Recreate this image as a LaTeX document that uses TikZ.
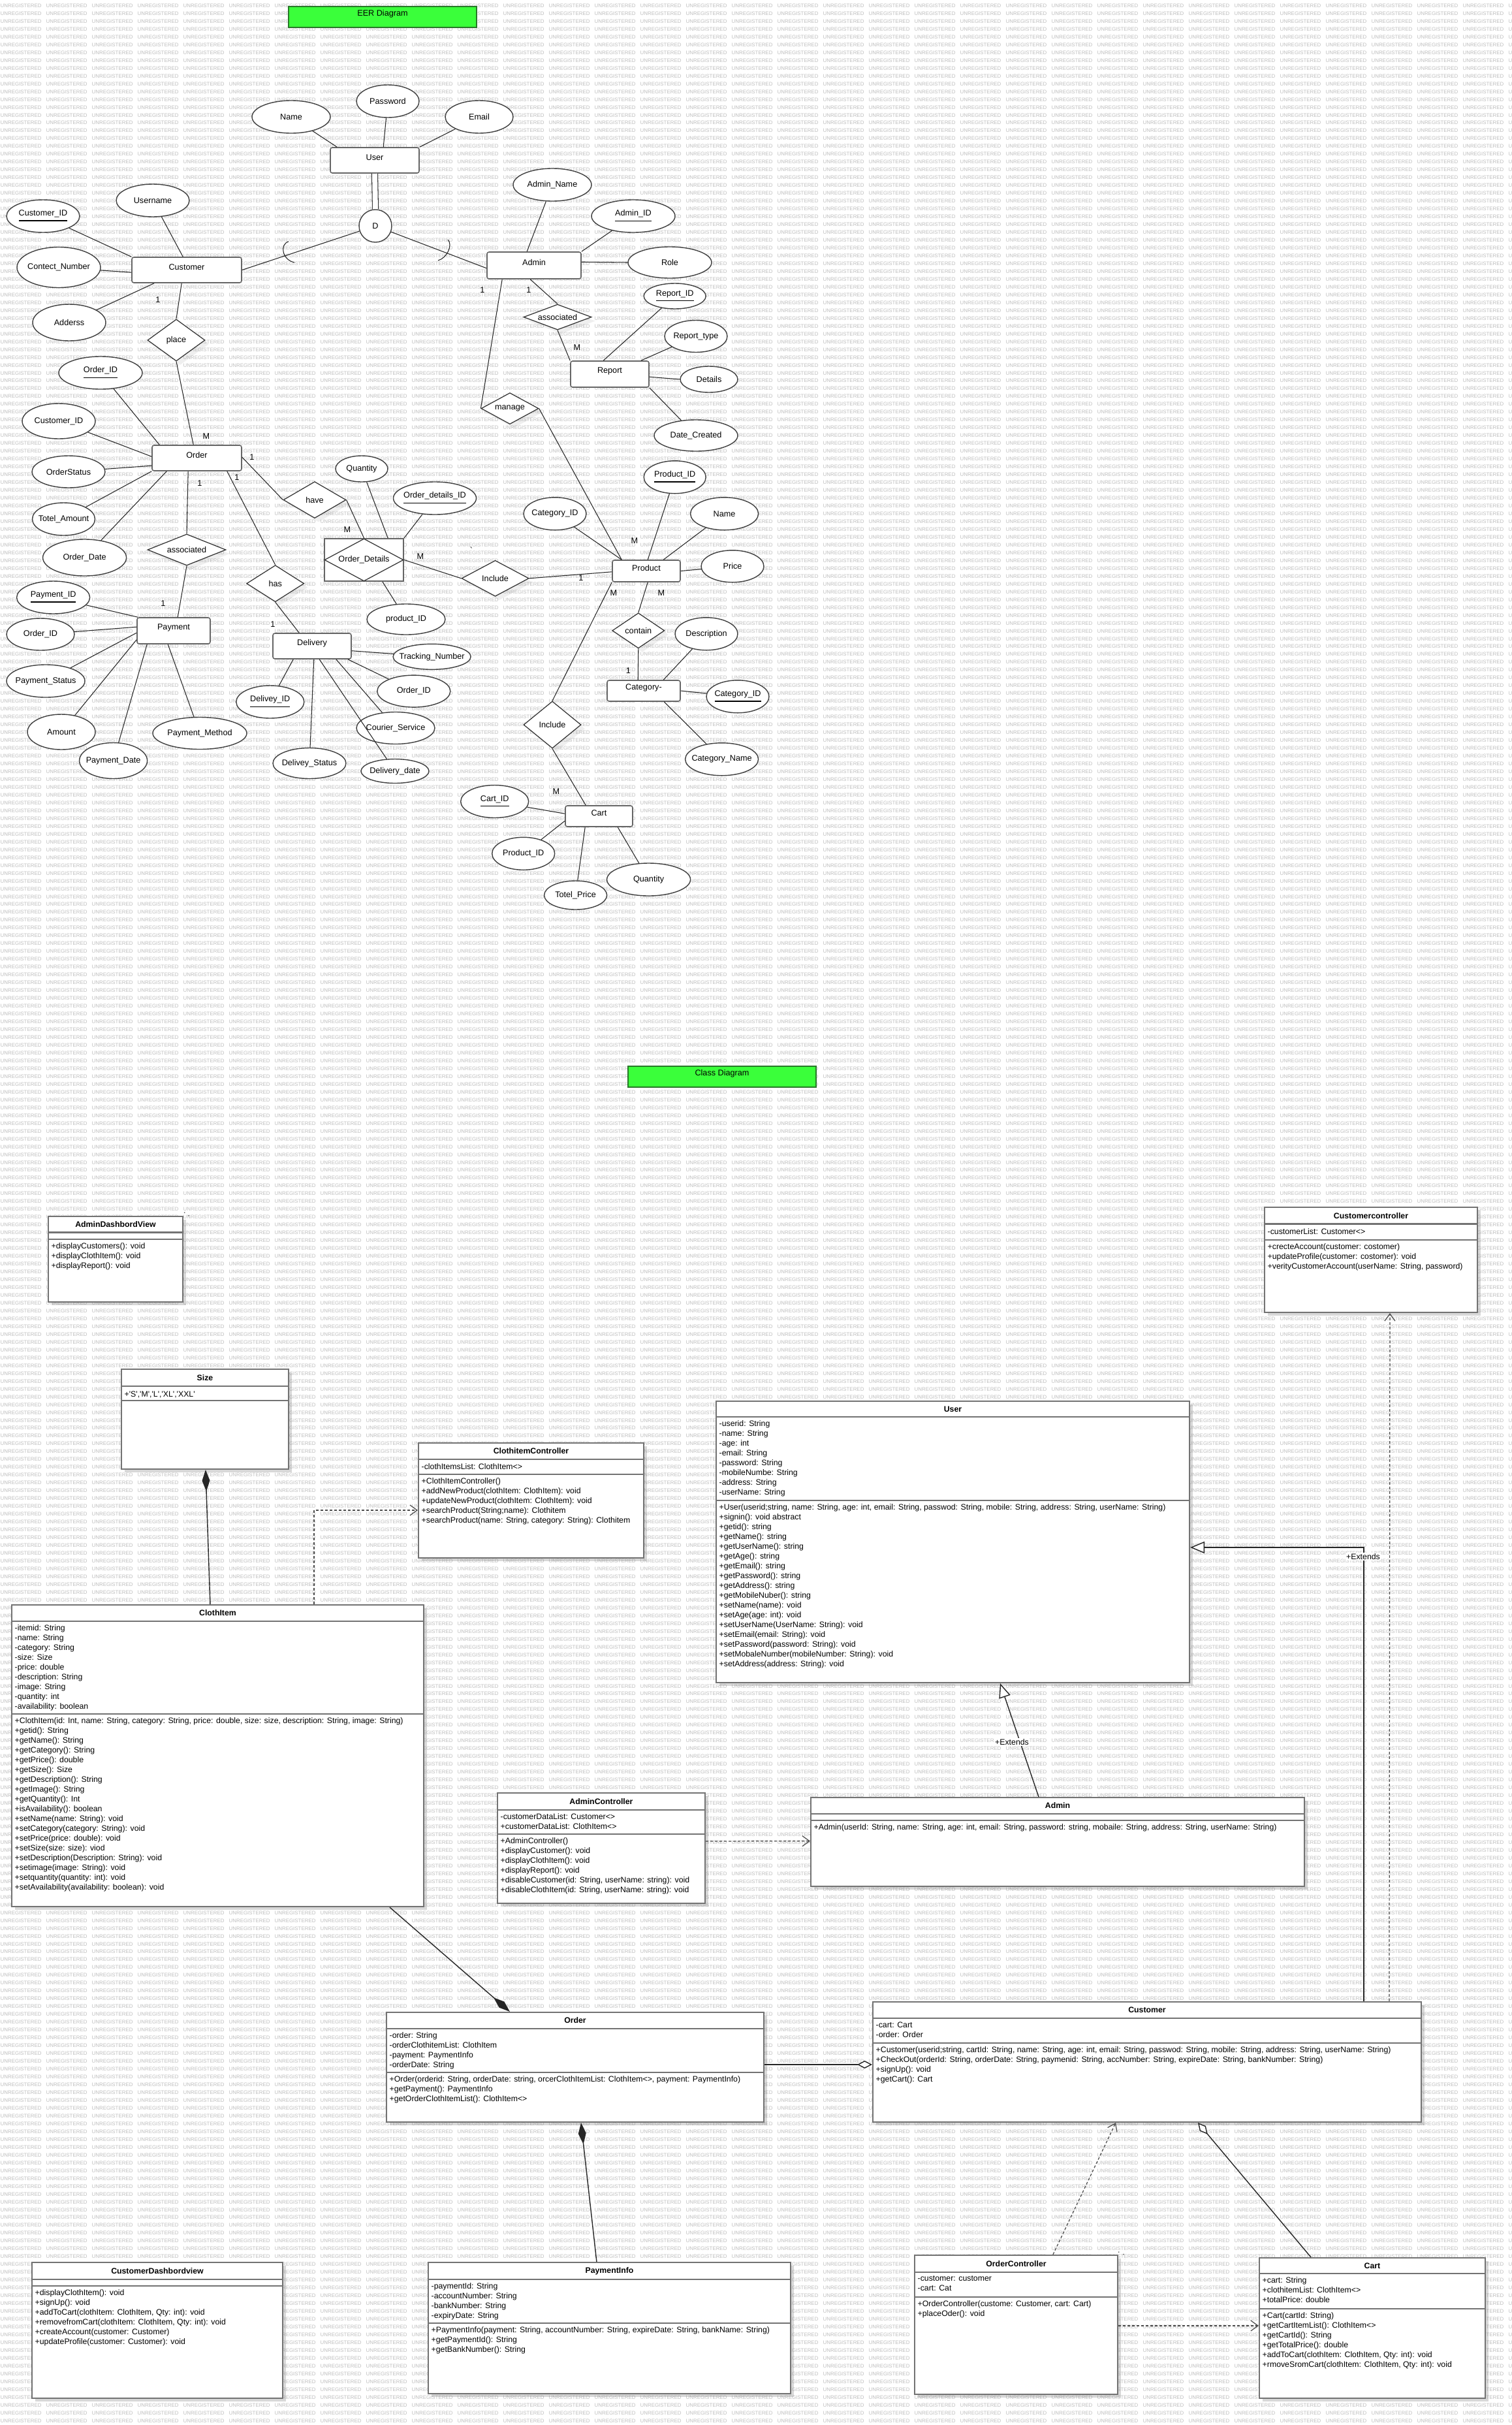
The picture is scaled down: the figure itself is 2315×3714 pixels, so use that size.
\documentclass[tikz,border=0pt]{standalone}
\usepackage{fontspec}
\setmainfont{Liberation Sans}
\usetikzlibrary{shapes.geometric,arrows.meta,calc,fit,shadows}
\definecolor{hdrgreen}{RGB}{58,255,58}
\definecolor{hdrborder}{RGB}{40,120,40}
\newcommand\eerf{\fontsize{3.6pt}{4.3pt}\selectfont}
\newcommand\clsf{\fontsize{3.5pt}{4.27pt}\selectfont}
\newcommand\wmf{\fontsize{2.25pt}{2.5pt}\selectfont}
\newcommand\wmcell{\makebox[7mm][l]{UNREGISTERED}}
\newcommand\wmeight{\wmcell\wmcell\wmcell\wmcell\wmcell\wmcell\wmcell\wmcell}
\newcommand\wmrow{\wmeight\wmeight\wmeight\wmeight\wmcell\wmcell}
\newcommand\q{\textquotesingle}
\tikzset{
 wm/.style={font=\wmf, text=black!25, inner sep=0pt, anchor=west},
 eattr/.style={ellipse, draw=black!75, line width=0.4pt, fill=white, inner sep=0pt, font=\eerf},
 eent/.style={rectangle, draw=black!60, line width=0.45pt, rounded corners=0.3mm, fill=white, inner sep=0pt, font=\eerf},
 erel/.style={diamond, draw=black!80, line width=0.35pt, fill=white, inner sep=0pt, font=\eerf, drop shadow={opacity=0.12, shadow xshift=0.6mm, shadow yshift=-0.6mm}},
 elink/.style={draw=black!85, line width=0.3pt},
 card/.style={font=\eerf, inner sep=0pt},
 hdr/.style={rectangle, draw=hdrborder, line width=0.5pt, fill=hdrgreen, inner sep=0pt, font=\eerf},
 cbox/.style={rectangle, draw=black!55, line width=0.6pt, fill=white, inner sep=0pt, drop shadow={opacity=0.3, shadow xshift=0.45mm, shadow yshift=-0.45mm}},
 csep/.style={draw=black!55, line width=0.6pt},
 ctitle/.style={font=\clsf\bfseries, inner sep=0pt},
 ctext/.style={font=\clsf, align=left, anchor=north west, inner sep=0pt, execute at begin node=\strut},
 clbl/.style={font=\clsf, inner sep=0.3pt, fill=white},
 cline/.style={draw=black!85, line width=0.4pt},
 comp/.style={cline, -{Diamond[length=3.3mm, width=1.2mm]}},
 agg/.style={cline, -{Diamond[open, length=2.3mm, width=1.2mm, fill=white]}},
 gen/.style={cline, -{Triangle[open, length=2.2mm, width=1.8mm, fill=white]}},
 dep/.style={draw=black!70, line width=0.35pt, dash pattern=on 0.4mm off 0.3mm, -{Straight Barb[length=1.1mm, width=1.6mm]}},
}
\newcommand\EA[6]{\node[eattr, minimum width=#4*0.2mm, minimum height=#5*0.2mm] (#1) at (#2,#3) {\makebox[0pt]{#6}};}
\newcommand\EE[6]{\node[eent, fit={(#2,#3) (#4,#5)}] (#1) {#6};}
\newcommand\ER[6]{\node[erel, minimum width=#4*0.1mm, minimum height=#5*0.1mm] (#1) at (#2,#3) {\makebox[0pt]{#6}};}
\newcommand\CL[4]{\node[card] (#1) at (#2,#3) {#4};}
\newcommand\UC[7]{\node[cbox, fit={(#2,#3) (#4,#5)}] (#1) {};
 \node[ctitle] (#1-t) at ({(#2+#4)/2},{(#3+#6)/2}) {#7};
 \draw[csep] (#2,#6) -- (#4,#6);}
\newcommand\CT[4]{\node[ctext] (#1) at (#2,#3) {#4};}
\begin{document}
\begin{tikzpicture}[x=0.1mm, y=-0.1mm]
\useasboundingbox (0,0) rectangle (2315,3714);
\fill[white] (0,0) rectangle (2315,3714);
% watermark
\begin{scope}
\clip (0,0) rectangle (2315,3714);
\foreach \k in {0,...,310} {\node[wm] (wm\k) at (0,{8.7+11.97*\k}) {\wmrow};}
\end{scope}
% headers
\node[hdr, fit={(442,10) (730,42)}] (eerh) {EER Diagram};
\node[hdr, fit={(962,1633) (1250,1665)}] (clsh) {Class Diagram};
% ===== EER =====
\EE{u}{506}{226}{642}{265}{User}
\EA{uname}{446}{179}{60}{25}{Name}
\EA{upass}{594}{155}{48}{25}{Password}
\EA{uemail}{734}{179}{52}{25}{Email}
\node[eattr, circle, minimum size=5mm] (D) at (575,346) {D};
\EE{cust}{202}{394}{370}{433}{Customer}
\EA{cid}{66}{331}{56}{25}{\underline{Customer\_ID}}
\EA{cuser}{234}{307}{56}{25}{Username}
\EA{ccontact}{90}{409.5}{64}{31}{Contect\_Number}
\EA{caddr}{106}{494}{56}{28}{Adderss}
\ER{place}{270}{521}{88}{64}{place}
\EE{ord}{233}{682}{370}{721}{Order}
\EA{oid}{154}{571}{64}{25}{\underline{Order\_ID}}
\EA{ocid}{90}{645}{56}{27}{Customer\_ID}
\EA{ostat}{105}{722.5}{56}{24.5}{OrderStatus}
\EA{otot}{97.5}{795}{48}{25}{Totel\_Amount}
\EA{odate}{129.6}{854}{64}{28}{Order\_Date}
\ER{assoc1}{286}{842}{120}{48}{associated}
\EE{pay}{210}{946}{322}{986}{Payment}
\EA{pid}{81.6}{915}{56}{25}{\underline{Payment\_ID}}
\EA{poid}{62}{971.5}{52}{24.5}{Order\_ID}
\EA{pstat}{70}{1043}{60}{25}{Payment\_Status}
\EA{pamt}{94}{1121}{52}{27}{Amount}
\EA{pdate}{173.6}{1165}{52}{27.5}{Payment\_Date}
\EA{pmeth}{306}{1123}{72}{24.5}{Payment\_Method}
\ER{has}{421.7}{893.7}{88}{56}{has}
\EE{del}{418}{970}{538}{1009}{Delivery}
\EA{did}{413.8}{1075}{52}{25}{\underline{Delivey\_ID}}
\EA{dstat}{474}{1169}{56}{23.5}{Delivey\_Status}
\EA{dtrack}{661.6}{1005.8}{59.5}{19.5}{Tracking\_Number}
\EA{doid}{633.8}{1058.6}{56}{24.5}{Order\_ID}
\EA{dcour}{606}{1115}{60}{24.5}{Courier\_Service}
\EA{ddate}{605}{1181}{52}{18.5}{Delivery\_date}
\ER{have}{482}{765.6}{96}{56}{have}
\node[eent, rounded corners=0pt, line width=0.6pt, fit={(497,825) (618,890)}] (od) {};
\node[diamond, draw=black!80, line width=0.35pt, inner sep=0pt, minimum width=12.1mm, minimum height=6.5mm, font=\eerf] (odd) at (od.center) {\makebox[0pt]{Order\_Details}};
\EA{odq}{554}{718}{40}{20}{Quantity}
\EA{odid}{666}{763}{63.5}{25}{\underline{Order\_details\_ID}}
\EA{odpid}{622}{948.5}{60}{23.5}{product\_ID}
\ER{incl1}{758.6}{885.8}{103}{55}{Include}
\EE{adm}{746}{386}{890}{427}{Admin}
\EA{aname}{846}{283}{60}{25}{Admin\_Name}
\EA{aid}{970}{331}{64}{25}{\underline{Admin\_ID}}
\EA{arole}{1026}{402}{64}{24}{Role}
\ER{assoc2}{854}{485.6}{104}{39}{associated}
\EE{rep}{874}{553}{994}{593}{Report}
\EA{rid}{1033.7}{453.5}{47.5}{19.5}{\underline{Report\_ID}}
\EA{rtype}{1066}{515}{48}{24.5}{Report\_type}
\EA{rdet}{1086}{581}{44}{20}{Details}
\EA{rdate}{1066}{667}{64}{24}{Date\_Created}
\ER{manage}{781}{625.6}{88}{48}{manage}
\EE{prod}{938}{858}{1042}{891}{Product}
\EA{prid}{1033.7}{730.8}{47.5}{25}{\underline{Product\_ID}}
\EA{pcat}{850}{786.8}{48}{25}{Category\_ID}
\EA{pname}{1109.6}{786.8}{52}{25}{Name}
\EA{pprice}{1122}{867.3}{48}{24.5}{Price}
\ER{contain}{977.8}{965.8}{80}{54}{contain}
\EE{cat}{930}{1042}{1042}{1074}{Category-}
\EA{catdesc}{1082}{970.8}{48}{25}{Description}
\EA{catid}{1130}{1066.8}{48}{25}{\underline{Category\_ID}}
\EA{catname}{1105.6}{1162.8}{56}{25}{Category\_Name}
\ER{incl2}{846}{1110}{88}{72}{Include}
\EE{cart}{866}{1234}{969}{1266}{Cart}
\EA{cartid}{757.7}{1227.5}{52}{25}{\underline{Cart\_ID}}
\EA{cartpid}{801.7}{1307.3}{48}{25}{Product\_ID}
\EA{carttot}{881.6}{1371}{48}{22}{Totel\_Price}
\EA{cartq}{993.6}{1347}{64}{25}{Quantity}
% EER connectors
\draw[elink] (uname) -- ($(u.north west)+(11,0)$);
\draw[elink] (upass) -- ($(u.north west)+(82,0)$);
\draw[elink] (uemail) -- (u.north east);
\draw[elink, double, double distance=0.8mm] (u.south) -- (D.north);
\draw[elink] (D) -- (cust.east);
\draw[elink] (442,370) .. controls (428,374) and (432,398) .. (451,402);
\draw[elink] (D) -- ($(adm.south west)+(0,-17)$);
\draw[elink] (686,367) .. controls (694,375) and (685,395) .. (671,399);
\draw[elink] (cid) -- (cust.north west);
\draw[elink] (cuser) -- ($(cust.north west)+(79,0)$);
\draw[elink] (ccontact) -- ($(cust.north west)+(0,24)$);
\draw[elink] (caddr) -- ($(cust.south west)+(35,0)$);
\draw[elink] ($(cust.south west)+(77,0)$) -- (place.north);
\draw[elink] (place.south) -- ($(ord.north west)+(64,0)$);
\draw[elink] (oid) -- ($(ord.north west)+(12,0)$);
\draw[elink] (ocid) -- ($(ord.north west)+(0,18)$);
\draw[elink] (ostat) -- ($(ord.north west)+(0,32)$);
\draw[elink] (otot) -- (ord.south west);
\draw[elink] (odate) -- ($(ord.south west)+(23,0)$);
\draw[elink] ($(ord.south west)+(56,0)$) -- (assoc1.north);
\draw[elink] (assoc1.south) -- ($(pay.north west)+(63,0)$);
\draw[elink] ($(ord.north east)+(0,19)$) -- (have.west);
\draw[elink] ($(ord.south east)+(-23,0)$) -- (has.north);
\draw[elink] (has.south) -- ($(del.north west)+(41,0)$);
\draw[elink] (have.east) -- (od.north);
\draw[elink] (pid) -- ($(pay.north west)+(2,0)$);
\draw[elink] (poid) -- ($(pay.north west)+(0,15)$);
\draw[elink] (pstat) -- ($(pay.north west)+(0,24)$);
\draw[elink] (pamt) -- ($(pay.north west)+(0,34.5)$);
\draw[elink] (pdate) -- ($(pay.south west)+(16,0)$);
\draw[elink] (pmeth) -- ($(pay.south west)+(48,0)$);
\draw[elink] (did) -- ($(del.south west)+(32,0)$);
\draw[elink] (dstat) -- ($(del.south west)+(63.6,0)$);
\draw[elink] (dtrack) -- ($(del.north east)+(0,27.5)$);
\draw[elink] (doid) -- ($(del.south east)+(-6,0)$);
\draw[elink] (dcour) -- ($(del.south east)+(-24,0)$);
\draw[elink] (ddate) -- ($(del.south west)+(72,0)$);
\draw[elink] (odq) -- ($(od.north east)+(-25,0)$);
\draw[elink] (odid) -- (od.north east);
\draw[elink] ($(od.south west)+(90,0)$) -- (odpid);
\draw[elink] (od.east) -- (incl1.west);
\draw[elink] (incl1.east) -- ($(prod.south west)+(0,-16)$);
\draw[elink] (aname) -- ($(adm.north west)+(62,0)$);
\draw[elink] (aid) -- (adm.north east);
\draw[elink] ($(adm.north east)+(0,16)$) -- (arole.west);
\draw[elink] ($(adm.south west)+(67,0)$) -- (assoc2.north);
\draw[elink] (assoc2.south) -- (rep.north west);
\draw[elink] ($(adm.south west)+(24,0)$) -- (manage.west);
\draw[elink] (manage.east) -- ($(prod.north west)+(15,0)$);
\draw[elink] (rid) -- ($(rep.north west)+(51,0)$);
\draw[elink] (rtype) -- ($(rep.north east)+(-13,0)$);
\draw[elink] ($(rep.north east)+(0,25)$) -- (rdet.west);
\draw[elink] (rdate) -- (rep.south east);
\draw[elink] (prid) -- ($(prod.north west)+(55,0)$);
\draw[elink] (pcat) -- ($(prod.north west)+(15,0)$);
\draw[elink] (pname) -- ($(prod.north west)+(79,0)$);
\draw[elink] (prod.east) -- (pprice);
\draw[elink] ($(prod.south west)+(55,0)$) -- (contain.north);
\draw[elink] (contain.south) -- ($(cat.north west)+(48,0)$);
\draw[elink] (catdesc) -- ($(cat.north west)+(87,0)$);
\draw[elink] (cat.east) -- (catid);
\draw[elink] (catname) -- ($(cat.south west)+(88,0)$);
\draw[elink] (prod.south west) -- (incl2.north);
\draw[elink] (incl2.south) -- ($(cart.north west)+(32,0)$);
\draw[elink] (cartid) -- ($(cart.north west)+(0,13)$);
\draw[elink] (cartpid) -- ($(cart.north west)+(0,24)$);
\draw[elink] (carttot) -- ($(cart.south west)+(31,0)$);
\draw[elink] (cartq) -- ($(cart.south west)+(81,0)$);
% cardinalities
\CL{k1}{242}{459}{1}
\CL{k2}{316}{668}{M}
\CL{k3}{386}{700}{1}
\CL{k4}{306}{740}{1}
\CL{k5}{250}{924}{1}
\CL{k6}{363}{731}{1}
\CL{k7}{418}{956}{1}
\CL{k8}{532}{811.5}{M}
\CL{k9}{644}{852}{M}
\CL{k10}{890}{885}{1}
\CL{k11}{739}{444}{1}
\CL{k12}{810}{444}{1}
\CL{k13}{884}{532.6}{M}
\CL{k14}{972}{828.5}{M}
\CL{k15}{1013}{908}{M}
\CL{k16}{962.5}{1027}{1}
\CL{k17}{940}{908}{M}
\CL{k18}{852}{1212}{M}
\CL{k19}{722}{843}{\textasciigrave}
% ===== Class diagram =====
\UC{adv}{74}{1863}{280}{1994}{1887.5}{AdminDashbordView}
\draw[csep] (74,1898) -- (280,1898);
\CT{adv-m}{78}{1903}{+displayCustomers(): void\\+displayClothItem(): void\\+displayReport(): void}
\draw[black!60, dotted, line width=0.4pt] (282,1857) .. controls (289,1858) and (291,1862) .. (290,1869);
\UC{size}{186}{2097}{442}{2250}{2123}{Size}
\draw[csep] (186,2145) -- (442,2145);
\CT{size-a}{190}{2128}{+\q S\q,\q M\q,\q L\q,\q XL\q,\q XXL\q}
\UC{cic}{641}{2210}{986}{2386}{2234.6}{ClothitemController}
\draw[csep] (641,2258) -- (986,2258);
\CT{cic-a}{645}{2239.6}{-clothItemsList: ClothItem<>}
\CT{cic-m}{645}{2263}{+ClothItemController()\\+addNewProduct(clothItem: ClothItem): void\\+updateNewProduct(clothItem: ClothItem): void\\+searchProduct(String;name): Clothitem\\+searchProduct(name: String, category: String): Clothitem}
\UC{ci}{18}{2458}{649}{2920}{2482.7}{ClothItem}
\draw[csep] (18,2625) -- (649,2625);
\CT{ci-a}{22}{2487.7}{-itemid: String\\-name: String\\-category: String\\-size: Size\\-price: double\\-description: String\\-image: String\\-quantity: int\\-availability: boolean}
\CT{ci-m}{22}{2630}{+ClothItem(id: Int, name: String, category: String, price: double, size: size, description: String, image: String)\\+getid(): String\\+getName(): String\\+getCategory(): String\\+getPrice(): double\\+getSize(): Size\\+getDescription(): String\\+getImage(): String\\+getQuantity(): Int\\+isAvailability(): boolean\\+setName(name: String): void\\+setCategory(category: String): void\\+setPrice(price: double): void\\+setSize(size: size): viod\\+setDescription(Description: String): void\\+setimage(image: String): void\\+setquantity(quantity: int): void\\+setAvailability(availability: boolean): void}
\UC{ccon}{1937}{1849.4}{2263}{2010}{1874.5}{Customercontroller}
\draw[csep] (1937,1899) -- (2263,1899);
\CT{ccon-a}{1941}{1879.5}{-customerList: Customer<>}
\CT{ccon-m}{1941}{1904}{+crecteAccount(customer: costomer)\\+updateProfile(customer: costomer): void\\+verityCustomerAccount(userName: String, password)}
\UC{user}{1097}{2146}{1822}{2577}{2170}{User}
\draw[csep] (1097,2297.8) -- (1822,2297.8);
\CT{user-a}{1101}{2175}{-userid: String\\-name: String\\-age: int\\-email: String\\-password: String\\-mobileNumbe: String\\-address: String\\-userName: String}
\CT{user-m}{1101}{2302.8}{+User(userid;string, name: String, age: int, email: String, passwod: String, mobile: String, address: String, userName: String)\\+signin(): void abstract\\+getid(): string\\+getName(): string\\+getUserName(): string\\+getAge(): string\\+getEmail(): string\\+getPassword(): string\\+getAddress(): string\\+getMobileNuber(): string\\+setName(name): void\\+setAge(age: int): void\\+setUserName(UserName: String): void\\+setEmail(email: String): void\\+setPassword(password: String): void\\+setMobaleNumber(mobileNumber: String): void\\+setAddress(address: String): void}
\UC{actl}{762}{2746}{1080}{2915}{2771.7}{AdminController}
\draw[csep] (762,2809) -- (1080,2809);
\CT{actl-a}{766}{2776.7}{-customerDataList: Customer<>\\+customerDataList: ClothItem<>}
\CT{actl-m}{766}{2814}{+AdminController()\\+displayCustomer(): void\\+displayClothItem(): void\\+displayReport(): void\\+disableCustomer(id: String, userName: string): void\\+disableClothItem(id: String, userName: string): void}
\UC{admin}{1242}{2753}{1998}{2889}{2778}{Admin}
\draw[csep] (1242,2788) -- (1998,2788);
\CT{admin-m}{1246}{2791}{+Admin(userId: String, name: String, age: int, email: String, password: string, mobaile: String, address: String, userName: String)}
\UC{order}{592}{3082}{1170}{3250}{3106.7}{Order}
\draw[csep] (592,3174) -- (1170,3174);
\CT{order-a}{596}{3111.7}{-order: String\\-orderClothitemList: ClothItem\\-payment: PaymentInfo\\-orderDate: String}
\CT{order-m}{596}{3179}{+Order(orderid: String, orderDate: string, orcerClothItemList: ClothItem<>, payment: PaymentInfo)\\+getPayment(): PaymentInfo\\+getOrderClothItemList(): ClothItem<>}
\UC{cust2}{1337}{3066}{2177}{3250}{3090.7}{Customer}
\draw[csep] (1337,3129) -- (2177,3129);
\CT{cust2-a}{1341}{3095.7}{-cart: Cart\\-order: Order}
\CT{cust2-m}{1341}{3134}{+Customer(userid;string, cartId: String, name: String, age: int, email: String, passwod: String, mobile: String, address: String, userName: String)\\+CheckOut(orderId: String, orderDate: String, paymenid: String, accNumber: String, expireDate: String, bankNumber: String)\\+signUp(): void\\+getCart(): Cart}
\UC{cdv}{49}{3465}{433}{3673}{3491}{CustomerDashbordview}
\draw[csep] (49,3501) -- (433,3501);
\CT{cdv-m}{53}{3506}{+displayClothItem(): void\\+signUp(): void\\+addToCart(clothItem: ClothItem, Qty: int): void\\+removefromCart(clothItem: ClothItem, Qty: int): void\\+createAccount(customer: Customer)\\+updateProfile(customer: Customer): void}
\UC{pinfo}{656}{3465}{1211}{3666}{3491}{PaymentInfo}
\draw[csep] (656,3558) -- (1211,3558);
\CT{pinfo-a}{660}{3496}{-paymentId: String\\-accountNumber: String\\-bankNumber: String\\-expiryDate: String}
\CT{pinfo-m}{660}{3563}{+PaymentInfo(payment: String, accountNumber: String, expireDate: String, bankName: String)\\+getPaymentId(): String\\+getBankNumber(): String}
\UC{octl}{1401}{3454}{1712}{3667}{3480}{OrderController}
\draw[csep] (1401,3518) -- (1712,3518);
\CT{octl-a}{1405}{3485}{-customer: customer\\-cart: Cat}
\CT{octl-m}{1405}{3523}{+OrderController(custome: Customer, cart: Cart)\\+placeOder(): void}
\draw[black!60, dotted, line width=0.4pt] (1713,3449) .. controls (1720,3449) and (1723,3453) .. (1723,3460);
\UC{ccart}{1929}{3458}{2275}{3673}{3482}{Cart}
\draw[csep] (1929,3536) -- (2275,3536);
\CT{ccart-a}{1933}{3487}{+cart: String\\+clothitemList: ClothItem<>\\+totalPrice: double}
\CT{ccart-m}{1933}{3541}{+Cart(cartId: String)\\+getCartItemList(): ClothItem<>\\+getCartId(): String\\+getTotalPrice(): double\\+addToCart(clothItem: ClothItem, Qty: int): void\\+rmoveSromCart(clothItem: ClothItem, Qty: int): void}
% class connectors
\draw[comp] ($(ci.north west)+(305,0)$) -- ($(size.south west)+(130,0)$);
\draw[dep] ($(ci.north west)+(464,0)$) |- ($(cic.north west)+(0,104)$);
\draw[dep] ($(cust2.north west)+(792,0)$) -- ($(ccon.south west)+(193,0)$);
\draw[gen] ($(cust2.north west)+(753,0)$) |- ($(user.north east)+(0,225)$);
\node[clbl] (ext1) at (2088,2384) {+Extends};
\draw[gen] ($(admin.north west)+(350,0)$) -- ($(user.south west)+(436,0)$);
\node[clbl] (ext2) at (1550,2668) {+Extends};
\draw[dep] ($(actl.north east)+(0,75)$) -- ($(admin.north west)+(0,67.7)$);
\draw[comp] ($(ci.south west)+(580,0)$) -- ($(order.north west)+(190,0)$);
\draw[agg] ($(order.north east)+(0,81)$) -- ($(cust2.north west)+(0,97)$);
\draw[comp] ($(pinfo.north west)+(259,0)$) -- ($(order.south west)+(299,0)$);
\draw[dep] ($(octl.north west)+(213,0)$) -- ($(cust2.south west)+(373,0)$);
\draw[agg] ($(ccart.north west)+(80,0)$) -- ($(cust2.south west)+(499,0)$);
\draw[dep] ($(octl.north east)+(0,109)$) -- ($(ccart.north west)+(0,105)$);
\end{tikzpicture}
\end{document}
